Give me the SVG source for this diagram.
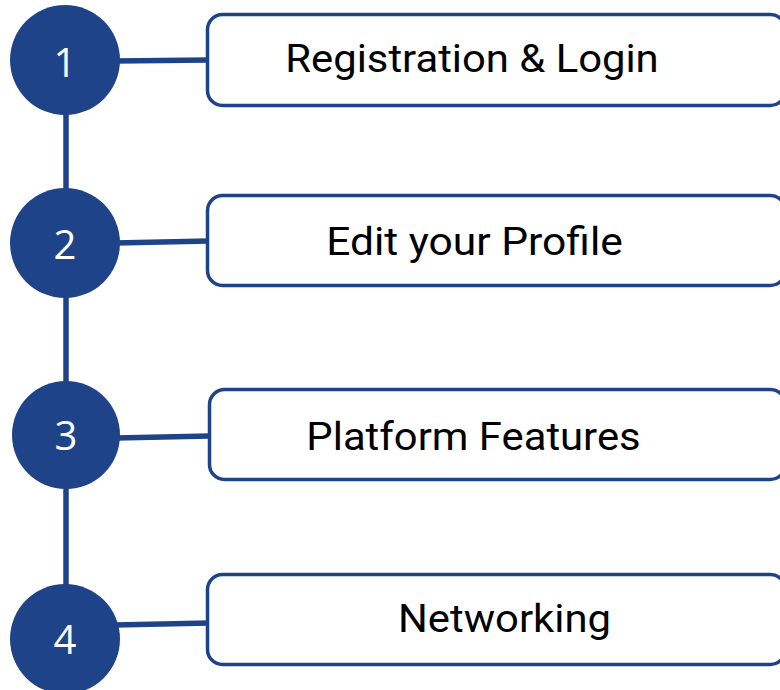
<svg xmlns="http://www.w3.org/2000/svg" width="780" height="690" viewBox="0 0 780 690">
<style>
.box{fill:#fff;stroke:#1f4389;stroke-width:3.5}
.dot{fill:#1f4389}
.conn{stroke:#1f4389;stroke-width:5.5;fill:none}
.num{font-family:"Open Sans","Noto Sans",sans-serif;font-size:40px;fill:#fff;text-anchor:middle}
.lbl{font-family:Roboto,"Noto Sans",sans-serif;font-size:38px;fill:#000;text-anchor:middle}
</style>
<rect width="780" height="690" fill="#fff"/>
<g id="connectors">
<line class="conn" x1="66" y1="110" x2="66" y2="590"/>
<line class="conn" x1="115" y1="61" x2="209" y2="60"/>
<line class="conn" x1="115" y1="243" x2="209" y2="241"/>
<line class="conn" x1="116" y1="438" x2="210" y2="436"/>
<line class="conn" x1="115" y1="625" x2="209" y2="623"/>
</g>
<g id="node1">
<circle class="dot" cx="65" cy="60" r="55"/>
<text class="num" x="65" y="77">1</text>
<rect class="box" x="207.5" y="14.5" width="578" height="91" rx="15"/>
<text class="lbl" transform="translate(472,72) scale(1.1,1)">Registration &amp; Login</text>
</g>
<g id="node2">
<circle class="dot" cx="65" cy="243" r="55"/>
<text class="num" x="65" y="259">2</text>
<rect class="box" x="207.5" y="195.5" width="578" height="90" rx="15"/>
<text class="lbl" transform="translate(474.5,255) scale(1.12,1)">Edit your Profile</text>
</g>
<g id="node3">
<circle class="dot" cx="66" cy="435" r="54"/>
<text class="num" x="66" y="450">3</text>
<rect class="box" x="209.5" y="389.5" width="576" height="90" rx="15"/>
<text class="lbl" transform="translate(473.5,450) scale(1.1,1)">Platform Features</text>
</g>
<g id="node4">
<circle class="dot" cx="65" cy="639" r="55"/>
<text class="num" x="65" y="654">4</text>
<rect class="box" x="207.5" y="574.5" width="578" height="90" rx="15"/>
<text class="lbl" transform="translate(504.5,632) scale(1.1,1)">Networking</text>
</g>
</svg>
